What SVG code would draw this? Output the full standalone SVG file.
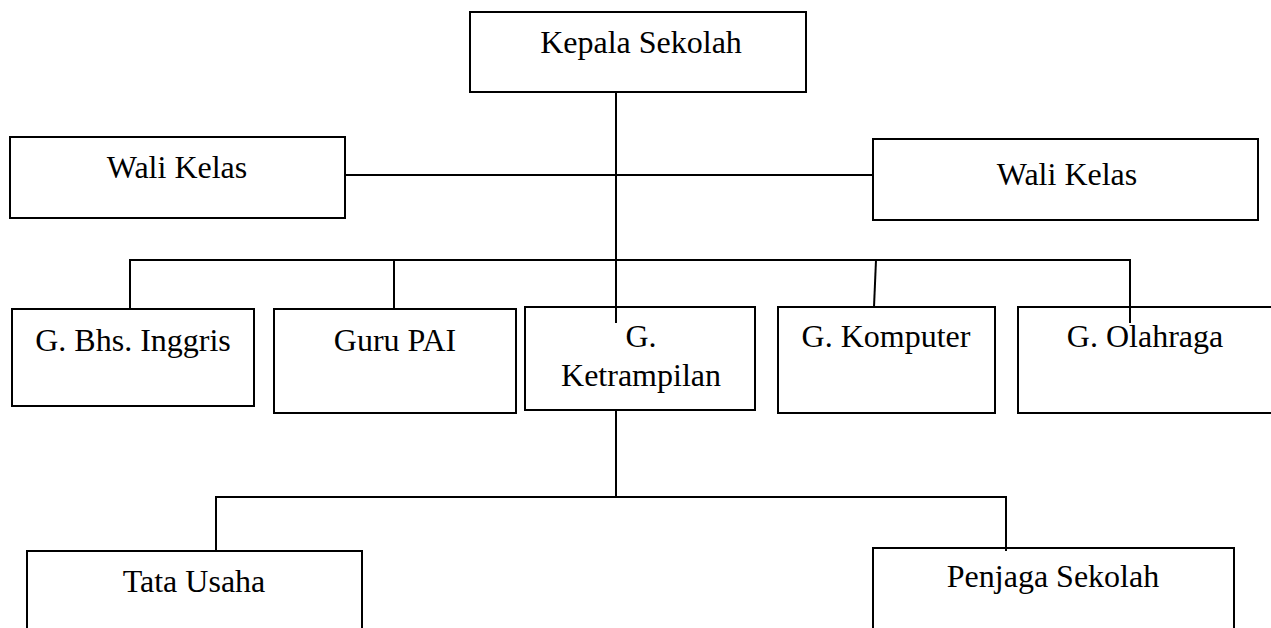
<svg xmlns="http://www.w3.org/2000/svg" width="1271" height="628" viewBox="0 0 1271 628">
<style>
.box{fill:#fff;stroke:#000;stroke-width:2}
.ln{fill:none;stroke:#000;stroke-width:2}
text{font-family:"Liberation Serif","Times New Roman",serif;font-size:32px;fill:#000;text-anchor:middle}
</style>
<rect width="1271" height="628" fill="#fff"/>
<g id="kepala"><rect class="box" x="470" y="12" width="336" height="80"/><text x="641" y="53">Kepala Sekolah</text></g>
<g id="wali-kiri"><rect class="box" x="10" y="137" width="335" height="81"/><text x="177" y="178">Wali Kelas</text></g>
<g id="wali-kanan"><rect class="box" x="873" y="139" width="385" height="81"/><text x="1067" y="185">Wali Kelas</text></g>
<g id="inggris"><rect class="box" x="12" y="309" width="242" height="97"/><text x="133" y="351">G. Bhs. Inggris</text></g>
<g id="pai"><rect class="box" x="274" y="309" width="242" height="104"/><text x="395" y="351">Guru PAI</text></g>
<g id="ketrampilan"><rect class="box" x="525" y="307" width="230" height="103"/><text x="641" y="347">G.</text><text x="641" y="386">Ketrampilan</text></g>
<g id="komputer"><rect class="box" x="778" y="307" width="217" height="106"/><text x="886" y="347">G. Komputer</text></g>
<g id="olahraga"><rect class="box" x="1018" y="307" width="270" height="106"/><text x="1145" y="347">G. Olahraga</text></g>
<g id="tata-usaha"><rect class="box" x="27" y="551" width="335" height="100"/><text x="194" y="592">Tata Usaha</text></g>
<g id="penjaga"><rect class="box" x="873" y="548" width="361" height="100"/><text x="1053" y="587">Penjaga Sekolah</text></g>
<g id="connectors">
<path class="ln" d="M616,92 V323"/>
<path class="ln" d="M345,175 H873"/>
<path class="ln" d="M130,309 V260 H1130 V323"/>
<path class="ln" d="M394,260 V309"/>
<path class="ln" d="M876,260 L874,307"/>
<path class="ln" d="M616,410 V497"/>
<path class="ln" d="M216,551 V497 H1006 V551"/>
</g>
</svg>
